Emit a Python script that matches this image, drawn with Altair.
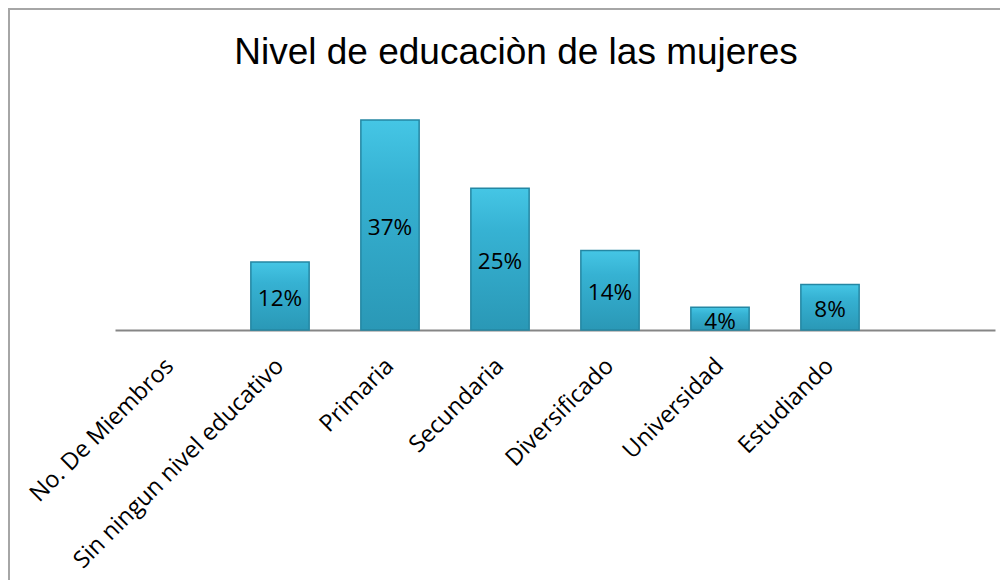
import altair as alt
import pandas as pd

categories = ["No. De Miembros", "Sin ningun nivel educativo", "Primaria", "Secundaria",
              "Diversificado", "Universidad", "Estudiando"]
values = [None, 12, 37, 25, 14, 4, 8]
labels = ["", "12%", "37%", "25%", "14%", "4%", "8%"]
extra_slot = [" "]

df = pd.DataFrame({"cat": categories, "val": values, "lab": labels})

x_enc = alt.X("cat:N", sort=categories,
              scale=alt.Scale(domain=categories + extra_slot, paddingInner=0.47, paddingOuter=0.235),
              axis=alt.Axis(title=None, labelAngle=-45, labelAlign="right", labelBaseline="middle",
                            labelFont="Open Sans", labelFontSize=23.5, labelColor="black",
                            labelPadding=32, ticks=False, domainColor="#868686", domainWidth=2,
                            labelOverlap=False, labelLimit=400))
y_enc = alt.Y("val:Q", scale=alt.Scale(domain=[0, 40]), axis=None)

base = alt.Chart(df)

bars = base.transform_filter("datum.val != null").mark_bar(
    color=alt.Gradient(gradient="linear",
                       stops=[alt.GradientStop(color="#45c6e5", offset=0),
                              alt.GradientStop(color="#36b2d3", offset=0.3),
                              alt.GradientStop(color="#2a98b6", offset=1)],
                       x1=0, x2=0, y1=0, y2=1),
    stroke="#2487a3", strokeWidth=1.5
).encode(x=x_enc, y=y_enc)

text = base.transform_filter("datum.val != null").transform_calculate(
    mid="datum.val / 2"
).mark_text(font="Open Sans", fontSize=22.5, color="black", baseline="middle", dy=3).encode(
    x=alt.X("cat:N", sort=categories, scale=alt.Scale(domain=categories + extra_slot)),
    y=alt.Y("mid:Q", scale=alt.Scale(domain=[0, 40])),
    text="lab:N"
)

frame = alt.Chart(pd.DataFrame({"a": [0]})).mark_rect(
    fill=None, stroke="#a6a6a6", strokeWidth=2
).encode(x=alt.value(-106), y=alt.value(-94), x2=alt.value(1000), y2=alt.value(600))

chart = alt.layer(frame, bars, text).properties(
    width=880, height=227,
    padding={"left": 107, "top": 95, "right": 5, "bottom": 250},
    autosize=alt.AutoSizeParams(type="none"),
    title=alt.Title("Nivel de educaciòn de las mujeres", font="Liberation Sans", fontSize=37,
                    fontWeight="normal", color="black", anchor="middle", frame="group",
                    dx=-39, offset=-64)
).configure_view(stroke=None)

chart.save("out.html", embed_options={"renderer": "svg", "actions": False})
